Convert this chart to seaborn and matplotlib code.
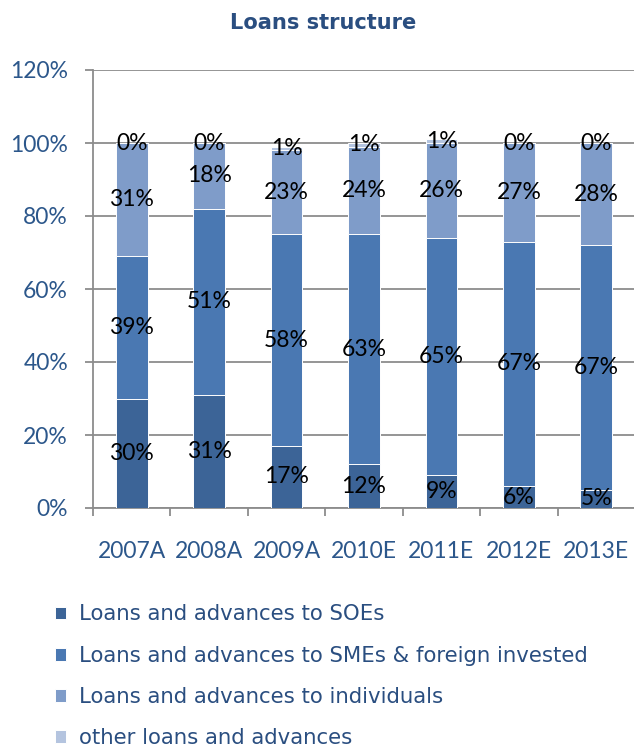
import numpy as np
import pandas as pd
import matplotlib
matplotlib.use("Agg")
import matplotlib.pyplot as plt
import seaborn as sns

# Loan mix by year (% of total loans)
years = ["2007A", "2008A", "2009A", "2010E", "2011E", "2012E", "2013E"]
soe = [30, 31, 17, 12, 9, 6, 5]
sme = [39, 51, 58, 63, 65, 67, 67]
individuals = [31, 18, 23, 24, 26, 27, 28]
other = [0, 0, 1, 1, 1, 0, 0]

series_names = [
    "Loans and advances to SOEs",
    "Loans and advances to SMEs & foreign invested",
    "Loans and advances to individuals",
    "other loans and advances",
]
series_values = [soe, sme, individuals, other]
series_colors = ["#3C6497", "#4A78B2", "#7F9CC9", "#B4C4DF"]

y_ticks = [0, 20, 40, 60, 80, 100, 120]

sns.set_theme(style="white")
plt.rcParams["font.family"] = ["Lato", "DejaVu Sans"]

label_blue = "#2C578B"
axis_gray = "#8C8C8C"

fig = plt.figure(figsize=(6.34, 7.49), dpi=100)
ax = fig.add_axes([93 / 634, 241 / 749, 542 / 634, 438 / 749])

df = pd.DataFrame({"year": years})
cum = np.zeros(len(years))
cums = []
for vals in series_values:
    cum = cum + np.array(vals)
    cums.append(cum.copy())

# Stack by overlaying cumulative totals, tallest layer first
for name, color, top in reversed(list(zip(series_names, series_colors, cums))):
    df["top"] = top
    sns.barplot(data=df, x="year", y="top", color=color, saturation=1,
                width=0.41, edgecolor="white", linewidth=0.7,
                label=name, ax=ax, zorder=3)

handles, labels = ax.get_legend_handles_labels()
if ax.get_legend() is not None:
    ax.get_legend().remove()

# Segment value labels, centred in each segment
for vals, top in zip(series_values, cums):
    for i, (v, t) in enumerate(zip(vals, top)):
        ax.text(i, t - v / 2, f"{v}%", ha="center", va="center",
                fontsize=16.5, color="black", zorder=5)

ax.set_xlim(-0.5, 6.5)
ax.set_ylim(0, 120)
ax.set_yticks(y_ticks)
ax.set_yticklabels([f"{t}%" for t in y_ticks])
ax.set_xlabel("")
ax.set_ylabel("")

ax.yaxis.grid(True, color=axis_gray, linewidth=1.3, zorder=0)
ax.xaxis.grid(False)
ax.set_axisbelow(True)
for side in ["top", "right"]:
    ax.spines[side].set_visible(False)
for side in ["left", "bottom"]:
    ax.spines[side].set_color(axis_gray)
    ax.spines[side].set_linewidth(1.3)

ax.set_xticks(np.arange(-0.5, 7, 1), minor=True)
ax.tick_params(axis="x", which="major", length=0, pad=24,
               labelsize=16.5, labelcolor=label_blue)
ax.tick_params(axis="x", which="minor", length=6, width=1.3,
               color=axis_gray, direction="out", bottom=True)
ax.tick_params(axis="y", which="major", length=6, width=1.3,
               color=axis_gray, direction="out", left=True, pad=12,
               labelsize=16.5, labelcolor=label_blue)

fig.text(323 / 634, 1 - 23 / 749, "Loans structure", ha="center", va="center",
         fontsize=15.1, fontweight="bold", color="#2A4E80",
         family=["DejaVu Sans"])

order = [labels.index(n) for n in series_names]
leg = fig.legend([handles[k] for k in order], [labels[k] for k in order],
                 loc="upper left", bbox_to_anchor=(46 / 634, 1 - 596 / 749),
                 frameon=False, handlelength=0.55, handleheight=0.55,
                 handletextpad=0.6, labelspacing=1.0,
                 borderaxespad=0.0,
                 prop={"family": "DejaVu Sans", "size": 15.3})
for t in leg.get_texts():
    t.set_color("#2A4E80")

fig.savefig("out.png", dpi=100)
